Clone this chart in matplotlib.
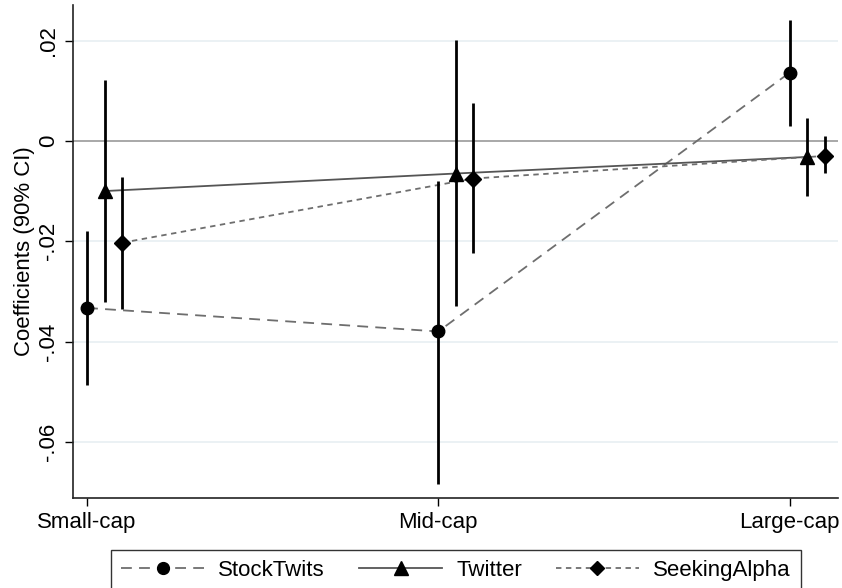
import matplotlib.pyplot as plt
from matplotlib.lines import Line2D

plt.rcParams['font.family'] = ['Liberation Sans', 'DejaVu Sans']

categories = ['Small-cap', 'Mid-cap', 'Large-cap']
series = ['StockTwits', 'Twitter', 'SeekingAlpha']

# point estimates and 90% CI bounds, per series, per category
coef = {
    'StockTwits':   [-0.0333, -0.0380, 0.0136],
    'Twitter':      [-0.0100, -0.0065, -0.0032],
    'SeekingAlpha': [-0.0203, -0.0075, -0.0030],
}
ci_low = {
    'StockTwits':   [-0.0486, -0.0685, 0.0030],
    'Twitter':      [-0.0322, -0.0329, -0.0109],
    'SeekingAlpha': [-0.0335, -0.0224, -0.0064],
}
ci_high = {
    'StockTwits':   [-0.0179, -0.0079, 0.0241],
    'Twitter':      [0.0121, 0.0202, 0.0045],
    'SeekingAlpha': [-0.0071, 0.0075, 0.0009],
}

offsets = {'StockTwits': 0.0, 'Twitter': 0.05, 'SeekingAlpha': 0.1}
markers = {'StockTwits': 'o', 'Twitter': '^', 'SeekingAlpha': 'D'}
msizes = {'StockTwits': 9, 'Twitter': 10, 'SeekingAlpha': 8}
styles = {'StockTwits': (0, (6, 4)), 'Twitter': '-', 'SeekingAlpha': (0, (3, 2.5))}
lcolors = {'StockTwits': '#6e6e6e', 'Twitter': '#555555', 'SeekingAlpha': '#6e6e6e'}

fs = 16

fig = plt.figure(figsize=(8.42, 5.88), dpi=100)
ax = fig.add_axes([73 / 842, 90 / 588, (838 - 73) / 842, (498 - 5) / 588])

ax.set_ylim(-0.0712, 0.0271)
ax.set_xlim(0.96, 3.138)

for y in [-0.06, -0.04, -0.02, 0.02]:
    ax.axhline(y, color='#e8eff2', lw=1.2, zorder=0)
ax.axhline(0, color='#999999', lw=1.2, zorder=1)

handles = []
for s in series:
    xs = [i + 1 + offsets[s] for i in range(len(categories))]
    ax.plot(xs, coef[s], linestyle=styles[s], color=lcolors[s], lw=1.3, zorder=2)
    ax.vlines(xs, ci_low[s], ci_high[s], color='black', lw=2, zorder=3)
    ax.plot(xs, coef[s], linestyle='none', marker=markers[s], ms=msizes[s],
            color='black', zorder=4)
    handles.append(Line2D([], [], linestyle=styles[s], color=lcolors[s], lw=1.3,
                          marker=markers[s], ms=msizes[s] - 0.5, mfc='black', mec='black'))

ax.set_xticks([1, 2, 3])
ax.set_xticklabels(categories, fontsize=fs)
ax.set_yticks([-0.06, -0.04, -0.02, 0, 0.02])
ax.set_yticklabels(['-.06', '-.04', '-.02', '0', '.02'], fontsize=fs,
                   rotation=90, va='center')
ax.tick_params(axis='both', length=6, width=1, color='black', pad=4)
ax.set_ylabel('Coefficients (90% CI)', fontsize=fs, labelpad=2)

ax.spines['top'].set_visible(False)
ax.spines['right'].set_visible(False)
for sp in ['left', 'bottom']:
    ax.spines[sp].set_linewidth(1.2)
    ax.spines[sp].set_color('#222222')

leg = fig.legend(handles, series, loc='upper center',
                 bbox_to_anchor=(456 / 842, 1 - 550 / 588),
                 ncol=3, fontsize=fs, frameon=True, fancybox=False,
                 handlelength=3.74, columnspacing=1.53, borderpad=0.45,
                 handletextpad=0.63, borderaxespad=0)
leg.get_frame().set_edgecolor('black')
leg.get_frame().set_linewidth(1.0)

fig.savefig('out.png', dpi=100)
